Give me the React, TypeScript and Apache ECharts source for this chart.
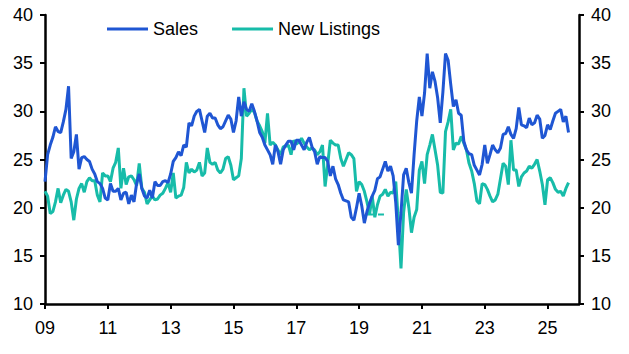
import React, { useEffect, useRef } from "react";
import * as echarts from "echarts";

// Monthly data, Jan 2009 .. Sep 2025
const START_YEAR = 2009;

const salesValues: number[] = [
  // 2009
  22.7, 25.5, 26.5, 27.3, 28.4, 27.9, 27.8, 28.9, 30.2, 32.6, 25.1, 25.8,
  // 2010
  27.6, 24.0, 25.2, 25.3, 25.0, 24.8, 24.0, 23.5, 22.7, 22.5, 22.0, 21.0,
  // 2011
  20.8, 22.5, 21.7, 21.7, 22.0, 20.8, 21.5, 21.6, 20.4, 21.3, 20.6, 22.5,
  // 2012
  23.5, 22.0, 21.2, 21.0, 21.8, 21.0, 22.7, 22.3, 22.3, 22.7, 22.8, 22.6,
  // 2013
  23.5, 24.8, 25.2, 25.8, 25.4, 26.5, 26.3, 28.8, 28.5, 29.5, 30.0, 30.2,
  // 2014
  29.0, 27.8, 29.5, 29.8, 29.3, 29.3, 28.6, 28.2, 28.4, 29.0, 29.6, 29.2,
  // 2015
  27.8, 29.0, 31.5, 29.5, 31.0, 30.2, 30.0, 30.8, 30.0, 29.0, 27.8, 27.3,
  // 2016
  26.5, 26.0, 25.5, 24.5, 26.5, 25.8, 24.5, 26.0, 26.5, 26.9, 26.9, 26.0,
  // 2017
  27.0, 27.0, 26.5, 26.0, 26.8, 27.3, 26.3, 25.8, 24.5, 25.3, 25.2, 25.2,
  // 2018
  24.8, 23.3, 24.3, 23.0, 22.4, 21.5, 20.8, 20.7, 20.6, 19.0, 18.7, 20.0,
  // 2019
  21.5, 20.2, 18.4, 19.6, 20.5, 21.2, 21.8, 23.0, 23.2, 24.0, 24.8, 23.8,
  // 2020
  24.3, 23.3, 20.5, 16.1, 19.5, 23.4, 24.1, 22.6, 21.5, 25.5, 29.0, 31.5,
  // 2021
  29.5, 31.9, 36.0, 32.4, 34.1, 33.1, 31.4, 28.8, 32.0, 36.0, 35.3, 32.8,
  // 2022
  30.5, 31.2, 29.8, 29.6, 26.9, 26.0, 25.6, 25.5, 24.4, 23.9, 23.4, 24.5,
  // 2023
  26.5, 24.6, 25.5, 26.5, 26.0, 25.7, 26.2, 27.6, 27.7, 28.4, 27.6, 27.2,
  // 2024
  28.2, 30.4, 28.6, 28.5, 28.3, 29.3, 28.6, 28.8, 29.6, 29.2, 27.2, 27.5,
  // 2025
  28.6, 28.1, 29.0, 29.8, 30.0, 30.2, 28.9, 29.5, 27.8,
];

const newListingsValues: number[] = [
  // 2009
  21.7, 21.2, 19.4, 19.6, 20.6, 22.0, 20.5, 21.3, 21.9, 21.7, 20.6, 18.7,
  // 2010
  20.9, 22.0, 22.5, 21.6, 22.7, 23.1, 22.8, 22.8, 21.3, 20.6, 23.6, 23.3,
  // 2011
  23.3, 22.7, 24.1, 24.7, 26.2, 22.0, 24.1, 22.4, 23.2, 23.3, 22.9, 22.3,
  // 2012
  24.6, 22.0, 21.6, 20.4, 20.8, 21.2, 20.8, 20.9, 21.3, 21.5, 22.0, 22.6,
  // 2013
  21.6, 23.6, 21.0, 21.2, 21.3, 22.1, 24.7, 23.6, 24.0, 23.7, 23.9, 24.7,
  // 2014
  23.3, 23.6, 26.2, 24.7, 24.5, 24.7, 23.9, 23.6, 24.0, 25.1, 25.3, 24.4,
  // 2015
  22.9, 23.1, 23.3, 25.1, 32.4, 29.5, 29.8, 30.2, 29.9, 29.0, 28.5, 27.9,
  // 2016
  26.7, 29.8, 26.5, 26.8, 26.5, 26.0, 25.5, 26.3, 26.4, 26.5, 25.5, 27.0,
  // 2017
  26.6, 26.8, 27.2, 26.7, 26.3, 26.0, 26.2, 26.0, 25.5, 25.8, 26.5, 22.2,
  // 2018
  24.5, 27.0, 26.7, 26.5, 26.5, 25.1, 24.3, 25.0, 25.7, 25.5, 25.1, 21.7,
  // 2019
  22.7, 22.4, 21.7, 20.6, 19.3, 21.2, 19.0, 20.3, 21.2, 21.4, 21.9, 21.2,
  // 2020
  21.6, 21.5, 22.7, 18.5, 13.7, 19.5, 21.9, 20.0, 17.4, 19.0, 19.8, 23.9,
  // 2021
  24.8, 22.5, 25.5, 26.5, 27.6, 26.0, 24.4, 21.6, 21.5, 27.9, 28.9, 30.2,
  // 2022
  26.0, 26.7, 26.6, 27.4, 26.7, 26.0, 24.6, 23.8, 22.5, 20.7, 20.4, 22.5,
  // 2023
  22.4, 21.9, 21.2, 20.6, 20.8, 21.4, 23.0, 24.6, 24.3, 22.4, 27.0, 23.9,
  // 2024
  23.9, 22.2, 23.2, 23.6, 23.8, 24.3, 24.1, 24.5, 25.0, 23.8, 22.4, 20.3,
  // 2025
  22.9, 23.1, 22.6, 21.9, 21.6, 21.7, 21.2, 22.0, 22.6,
];

// short dashed teal reference segment (year, value)
const dashedSegmentYears: number[] = [2019.25, 2019.9];
const dashedSegmentValues: number[] = [19.3, 19.3];

const xTickYears: number[] = [2009, 2011, 2013, 2015, 2017, 2019, 2021, 2023, 2025];
const xEndYear = 2026;
const yMin = 10;
const yMax = 40;
const yStep = 5;

const SALES_COLOR = "#1f56d3";
const NL_COLOR = "#17bca9";
const FONT = "'Liberation Sans', Arial, sans-serif";

function toSeries(values: number[]): [number, number][] {
  return values.map((v, i) => [i / 12, v]);
}

export default function App() {
  const ref = useRef<HTMLDivElement | null>(null);

  useEffect(() => {
    if (!ref.current) return;
    const chart = echarts.init(ref.current, undefined, { renderer: "svg" });
    const tickOffsets = xTickYears.map((y) => y - START_YEAR);

    const yAxisCommon = {
      type: "value" as const,
      min: yMin,
      max: yMax,
      interval: yStep,
      splitLine: { show: false },
      axisLine: { show: true, lineStyle: { color: "#000", width: 2.5 } },
      axisTick: { show: true, length: 5, lineStyle: { color: "#000", width: 2 } },
      axisLabel: { color: "#000", fontSize: 18, fontFamily: FONT, margin: 12 },
    };

    chart.setOption({
      animation: false,
      backgroundColor: "#fff",
      grid: { left: 45, right: 50, top: 15, bottom: 50, containLabel: false },
      legend: {
        data: ["Sales", "New Listings"],
        left: 107,
        top: 20,
        padding: 0,
        icon: "rect",
        itemWidth: 41,
        itemHeight: 3,
        itemGap: 34,
        textStyle: { color: "#000", fontSize: 18, fontFamily: FONT },
      },
      xAxis: {
        type: "value",
        min: 0,
        max: xEndYear - START_YEAR,
        splitLine: { show: false },
        axisLine: { show: true, onZero: false, lineStyle: { color: "#000", width: 2.5 } },
        axisTick: {
          show: true,
          length: 5,
          customValues: tickOffsets,
          lineStyle: { color: "#000", width: 2 },
        },
        axisLabel: {
          customValues: tickOffsets,
          color: "#000",
          fontSize: 18,
          fontFamily: FONT,
          margin: 15,
          formatter: (v: number) => String((Math.round(v) + START_YEAR) % 100).padStart(2, "0"),
        },
      },
      yAxis: [
        { ...yAxisCommon, position: "left" },
        { ...yAxisCommon, position: "right" },
      ],
      series: [
        {
          name: "New Listings",
          type: "line",
          data: toSeries(newListingsValues),
          showSymbol: false,
          lineStyle: { color: NL_COLOR, width: 3 },
          itemStyle: { color: NL_COLOR },
          z: 2,
        },
        {
          name: "NL segment",
          type: "line",
          data: dashedSegmentYears.map((y, i) => [y - START_YEAR, dashedSegmentValues[i]]),
          showSymbol: false,
          lineStyle: { color: NL_COLOR, width: 2, type: [6, 5] },
          itemStyle: { color: NL_COLOR },
          z: 2,
        },
        {
          name: "Sales",
          type: "line",
          data: toSeries(salesValues),
          showSymbol: false,
          lineStyle: { color: SALES_COLOR, width: 3 },
          itemStyle: { color: SALES_COLOR },
          z: 3,
        },
      ],
    });

    return () => chart.dispose();
  }, []);

  return (
    <div
      ref={ref}
      style={{ position: "fixed", left: 0, top: 0, width: 629, height: 354, background: "#fff" }}
    />
  );
}
